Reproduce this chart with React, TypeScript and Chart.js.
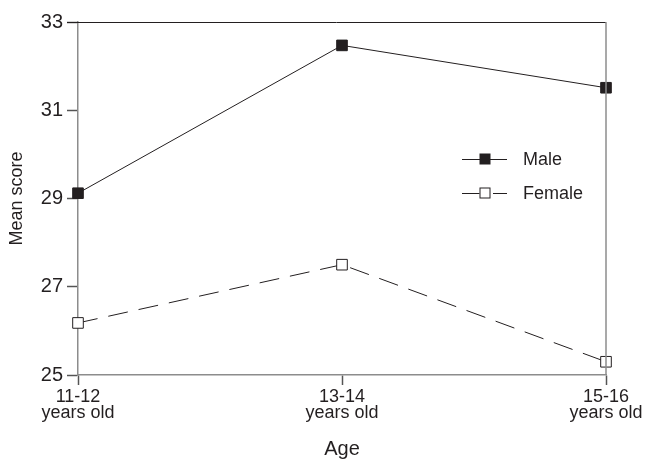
import React, { useEffect, useRef } from "react";
import { Chart, registerables } from "chart.js";

Chart.register(...registerables);

const ageGroups = ["11-12", "13-14", "15-16"];
const ageSuffix = "years old";
const maleScores = [29.12, 32.47, 31.51];
const femaleScores = [26.18, 27.5, 25.3];
const yTicks = [25, 27, 29, 31, 33];
const seriesNames = ["Male", "Female"];

const INK = "#231f20";
const AXIS = "#8c8c8c";
const FONT = "'Liberation Sans', Arial, sans-serif";

const framePlugin = {
  id: "frame",
  afterDraw(chart: any) {
    const { ctx, chartArea } = chart;
    ctx.save();
    // top border
    ctx.strokeStyle = INK;
    ctx.lineWidth = 1;
    ctx.beginPath();
    ctx.moveTo(chartArea.left - 11, chartArea.top + 0.5);
    ctx.lineTo(chartArea.right, chartArea.top + 0.5);
    ctx.stroke();
    // right border
    ctx.strokeStyle = AXIS;
    ctx.lineWidth = 1.5;
    ctx.beginPath();
    ctx.moveTo(chartArea.right, chartArea.top);
    ctx.lineTo(chartArea.right, chartArea.bottom);
    ctx.stroke();

    // legend
    const lx = chartArea.left + 384;
    const rows = [
      { name: seriesNames[0], y: chartArea.top + 137, filled: true },
      { name: seriesNames[1], y: chartArea.top + 171, filled: false },
    ];
    ctx.font = `18px ${FONT}`;
    ctx.textBaseline = "middle";
    ctx.textAlign = "left";
    rows.forEach((r) => {
      ctx.strokeStyle = INK;
      ctx.lineWidth = 1;
      ctx.beginPath();
      if (r.filled) {
        ctx.moveTo(lx, r.y + 0.5);
        ctx.lineTo(lx + 45, r.y + 0.5);
      } else {
        ctx.moveTo(lx, r.y + 0.5);
        ctx.lineTo(lx + 18, r.y + 0.5);
        ctx.moveTo(lx + 31, r.y + 0.5);
        ctx.lineTo(lx + 45, r.y + 0.5);
      }
      ctx.stroke();
      const s = 11;
      const mx = lx + 23;
      if (r.filled) {
        ctx.fillStyle = INK;
        ctx.fillRect(mx - s / 2, r.y - s / 2, s, s);
      } else {
        ctx.fillStyle = "#fff";
        ctx.fillRect(mx - s / 2, r.y - s / 2, s, s);
        ctx.strokeRect(mx - s / 2 + 0.5, r.y - s / 2 + 0.5, s - 1, s - 1);
      }
      ctx.fillStyle = INK;
      ctx.fillText(r.name, lx + 61, r.y + 1);
    });
    ctx.restore();
  },
};

export default function App() {
  const ref = useRef<HTMLCanvasElement | null>(null);

  useEffect(() => {
    document.body.style.margin = "0";
    const canvas = ref.current;
    if (!canvas) return;
    const chart = new Chart(canvas, {
      type: "line",
      data: {
        labels: ageGroups.map((g) => [g, ageSuffix]),
        datasets: [
          {
            label: seriesNames[0],
            data: maleScores,
            borderColor: INK,
            borderWidth: 1,
            backgroundColor: INK,
            pointStyle: "rect",
            pointRadius: 7.5,
            pointBorderWidth: 1,
            pointBorderColor: INK,
            pointBackgroundColor: INK,
            tension: 0,
          },
          {
            label: seriesNames[1],
            data: femaleScores,
            borderColor: INK,
            borderWidth: 1,
            borderDash: [20, 11],
            backgroundColor: "#fff",
            pointStyle: "rect",
            pointRadius: 7.5,
            pointBorderWidth: 1,
            pointBorderColor: INK,
            pointBackgroundColor: "#fff",
            tension: 0,
          },
        ],
      },
      options: {
        responsive: false,
        animation: false,
        layout: { padding: { top: 22, right: 39, left: 0, bottom: 0 } },
        plugins: {
          legend: { display: false },
          tooltip: { enabled: false },
        },
        scales: {
          x: {
            type: "category",
            offset: false,
            grid: {
              display: true,
              drawOnChartArea: false,
              drawTicks: true,
              tickLength: 10,
              tickColor: "#555",
              tickWidth: 1.5,
            },
            border: { display: true, color: AXIS, width: 1.5 },
            ticks: {
              color: INK,
              font: { family: FONT, size: 18, lineHeight: 0.9 },
              maxRotation: 0,
              autoSkip: false,
              padding: 4,
            },
            title: {
              display: true,
              text: "Age",
              color: INK,
              font: { family: FONT, size: 20, lineHeight: 1 },
              padding: { top: 0, bottom: 0 },
            },
            afterFit(scale: any) {
              scale.height = 84;
              scale.paddingLeft = 0;
              scale.paddingRight = 0;
            },
          },
          y: {
            min: 25,
            max: 33,
            grid: {
              display: true,
              drawOnChartArea: false,
              drawTicks: true,
              tickLength: 11,
              tickColor: "#555",
              tickWidth: 1.5,
            },
            border: { display: true, color: AXIS, width: 1.5 },
            afterBuildTicks(scale: any) {
              scale.ticks = yTicks.map((v) => ({ value: v }));
            },
            ticks: {
              color: INK,
              font: { family: FONT, size: 20 },
              padding: 4,
            },
            title: {
              display: true,
              text: "Mean score",
              color: INK,
              font: { family: FONT, size: 18 },
              padding: { top: 6, bottom: 0 },
            },
            afterFit(scale: any) {
              scale.width = 78;
              scale.paddingTop = 0;
              scale.paddingBottom = 0;
            },
          },
        },
      },
      plugins: [framePlugin],
    });
    return () => chart.destroy();
  }, []);

  return (
    <div style={{ width: 645, height: 459, background: "#fff" }}>
      <canvas ref={ref} width={645} height={459} />
    </div>
  );
}
